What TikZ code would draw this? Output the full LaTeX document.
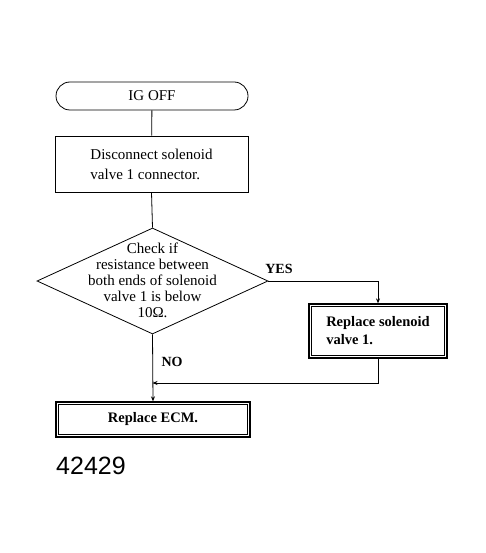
\documentclass[tikz,border=0pt]{standalone}
\usepackage{fontspec}
\setmainfont{Liberation Serif}
\newfontfamily\numfont{Liberation Sans}
\usetikzlibrary{shapes.geometric,arrows.meta}
\tikzset{
  flowline/.style={line width=0.8pt},
  plainbox/.style={draw, line width=0.8pt, minimum width=193pt, minimum height=56pt, align=left, font=\fontsize{15}{20}\selectfont},
  termbox/.style={draw, line width=0.8pt, rounded corners=14pt, minimum width=192pt, minimum height=28pt, font=\fontsize{15}{18}\selectfont},
  decbox/.style={draw, diamond, line width=0.8pt, minimum width=231pt, minimum height=106pt, inner sep=0pt},
  dectext/.style={align=center, font=\fontsize{15}{16}\selectfont},
  actbox/.style={draw, line width=1.3pt, inner sep=0pt, align=left, font=\bfseries\fontsize{14.5}{18}\selectfont},
  lbl/.style={font=\bfseries\fontsize{14}{16}\selectfont, inner sep=0pt},
  tip/.style={-{Stealth[length=5pt,width=4pt]}}
}
\begin{document}
\begin{tikzpicture}[x=1pt,y=-1pt]
\useasboundingbox (0,0) rectangle (485,553);
\node[termbox] (ig) at (152,96) {IG OFF};
\node[plainbox] (disc) at (151.5,164) {Disconnect solenoid\\valve 1 connector.};
\node[decbox] (chk) at (152.5,281) {};
\node[dectext] (chktxt) at (152.5,280) {Check if\\resistance between\\both ends of solenoid\\valve 1 is below\\10Ω.};
\node[actbox, minimum width=138pt, minimum height=54pt] (rep) at (378,331) {Replace solenoid\\valve 1.};
\node[actbox, minimum width=194pt, minimum height=35pt, align=center] (ecm) at (153,419.5) {Replace ECM.};
\draw[line width=0.5pt] ([shift={(3,3)}]rep.north west) rectangle ([shift={(-3,-3)}]rep.south east);
\draw[line width=0.5pt] ([shift={(3,3)}]ecm.north west) rectangle ([shift={(-3,-3)}]ecm.south east);
\node[lbl] (yes) at (279,269) {YES};
\node[lbl] (no) at (172,362) {NO};
\node[font=\numfont\fontsize{25}{28}\selectfont, inner sep=0pt, anchor=west] (num) at (56,466) {42429};
\coordinate (jn) at (152.5,383);
\draw[flowline] (ig) -- (disc);
\draw[flowline] (disc.south) -- (chk.north);
\draw[flowline, tip] (chk.east) -| (rep.north);
\draw[flowline, tip] (rep.south) |- (jn);
\draw[flowline, tip] (chk.south) -- (ecm.north);
\end{tikzpicture}
\end{document}
